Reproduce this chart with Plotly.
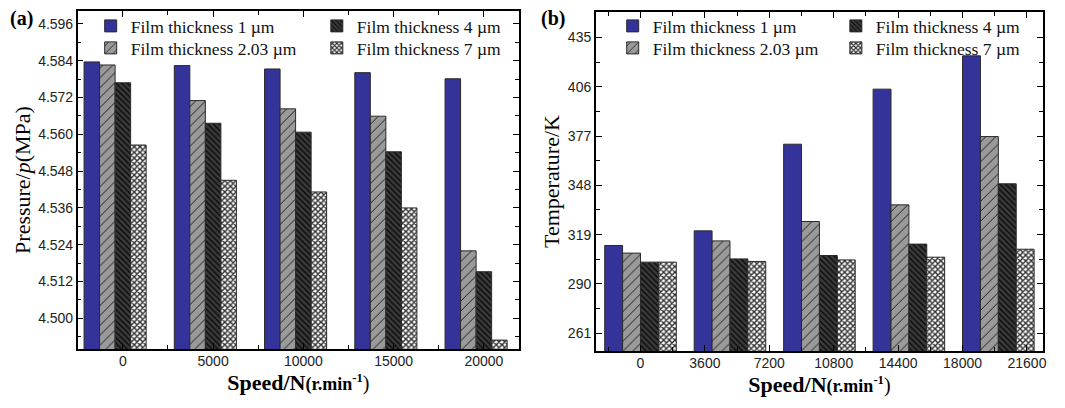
import plotly.graph_objects as go

# ---------------- data ----------------
speeds = [0, 5000, 10000, 15000, 20000]
series_names = ["Film thickness 1 µm", "Film thickness 2.03 µm",
                "Film thickness 4 µm", "Film thickness 7 µm"]

pressure_1um = [4.5836, 4.5824, 4.5813, 4.5801, 4.5781]
pressure_203um = [4.5826, 4.5710, 4.5683, 4.5659, 4.5220]
pressure_4um = [4.5768, 4.5636, 4.5607, 4.5543, 4.5152]
pressure_7um = [4.5565, 4.5450, 4.5412, 4.5360, 4.4929]

temp_1um = [312.6, 321.2, 372.2, 404.6, 424.2]
temp_203um = [308.1, 315.3, 326.7, 336.5, 376.7]
temp_4um = [302.8, 304.7, 306.7, 313.4, 348.9]
temp_7um = [302.8, 303.2, 304.1, 305.7, 310.4]

p_ticks = [4.500, 4.512, 4.524, 4.536, 4.548, 4.560, 4.572, 4.584, 4.596]
t_ticks = [261, 290, 319, 348, 377, 406, 435]
a_xticks = [0, 5000, 10000, 15000, 20000]
b_xticks = [0, 3600, 7200, 10800, 14400, 18000, 21600]

# ---------------- geometry ----------------
# The page body has an 8 px margin, so the figure is 8 px smaller and
# reference pixel positions are shifted by 8 px.
OFF = 8
W, H = 1065 - OFF, 408 - OFF


def px(x):
    return (x - OFF) / W


def py(y):
    return 1 - (y - OFF) / H


SERIF = "Liberation Serif"
SANS = "Liberation Sans"

styles = [
    dict(color="#333399", pattern=dict(shape="")),
    dict(color="#9a9a9a", pattern=dict(shape="/", bgcolor="#9a9a9a", fgcolor="#1a1a1a",
                                       size=7, solidity=0.14, fillmode="replace")),
    dict(color="#383838", pattern=dict(shape="\\", bgcolor="#3a3a3a", fgcolor="#0a0a0a",
                                       size=4, solidity=0.35, fillmode="replace")),
    dict(color="#ffffff", pattern=dict(shape="x", bgcolor="#ffffff", fgcolor="#333333",
                                       size=4, solidity=0.6, fillmode="replace")),
]

# legend slot (text-left minus 40, row top) per series, per panel
legend_pos_a = [(91, 8), (91, 30), (318, 8), (318, 30)]
legend_pos_b = [(615, 8), (615, 30), (839, 8), (839, 30)]

fig = go.Figure()
leg_layout = {}


def add_panel(values, xa, ya, width, shift, first_leg, positions):
    for i, (name, vals) in enumerate(zip(series_names, values)):
        st = styles[i]
        k = first_leg + i
        lname = "legend" if k == 1 else "legend%d" % k
        fig.add_trace(go.Bar(
            x=speeds, y=vals, name=name,
            width=width, offset=(i - shift) * width,
            xaxis=xa, yaxis=ya,
            marker=dict(color=st["color"], pattern=st["pattern"],
                        line=dict(color="#2a2a2a", width=1)),
            legend=lname, showlegend=True,
        ))
        lx, ly = positions[i]
        leg_layout[lname] = dict(
            orientation="v", bgcolor="rgba(0,0,0,0)", borderwidth=0,
            font=dict(family=SERIF, size=17.5, color="#111"),
            xanchor="left", yanchor="top", x=px(lx), y=py(ly), itemwidth=30,
        )


add_panel([pressure_1um, pressure_203um, pressure_4um, pressure_7um], "x", "y", 860, 2.5,
          1, legend_pos_a)
add_panel([temp_1um, temp_203um, temp_4um, temp_7um], "x2", "y2", 1000, 2.0,
          5, legend_pos_b)

axis_common = dict(
    showline=True, linecolor="#000", linewidth=1.5, mirror="ticks",
    ticks="inside", ticklen=6, tickwidth=1, tickcolor="#000",
    showgrid=False, zeroline=False,
    tickfont=dict(family=SANS, size=14, color="#222"),
)

title_x = ("<b>Speed/N</b><b><span style='font-size:18px'>(r.min<sup>-1</sup></span></b>"
           "<span style='font-size:20px'>)</span>")

fig.update_layout(
    width=W, height=H,
    margin=dict(l=0, r=0, t=0, b=0),
    paper_bgcolor="white", plot_bgcolor="white",
    barmode="overlay",
    showlegend=True,
    xaxis=dict(domain=[px(78), px(521)], anchor="y", range=[-2500, 21950],
               tickvals=a_xticks, ticktext=[str(v) for v in a_xticks],
               minor=dict(tickvals=[-2500 + 5000 * k for k in range(6)], ticks="inside",
                          ticklen=4, tickcolor="#000"),
               title=dict(text=title_x, font=dict(family=SERIF, size=22, color="#000"),
                          standoff=7),
               ticklabelstandoff=-2,
               **axis_common),
    yaxis=dict(domain=[py(349), py(11)], anchor="x", range=[4.490, 4.6002],
               tickvals=p_ticks, ticktext=["%.3f" % v for v in p_ticks],
               minor=dict(tickvals=[v + 0.006 for v in p_ticks] + [4.494], ticks="inside",
                          ticklen=4, tickcolor="#000"),
               title=dict(text="Pressure/<i>p</i>(MPa)", font=dict(family=SERIF, size=22, color="#000"),
                          standoff=1),
               **axis_common),
    xaxis2=dict(domain=[px(598), px(1047)], anchor="y2", range=[-2500, 22500],
                tickvals=b_xticks, ticktext=[str(v) for v in b_xticks],
                minor=dict(tickvals=[-1800 + 3600 * k for k in range(8)], ticks="inside",
                           ticklen=4, tickcolor="#000"),
                title=dict(text=title_x, font=dict(family=SERIF, size=22, color="#000"),
                           standoff=7),
                ticklabelstandoff=-2,
                **axis_common),
    yaxis2=dict(domain=[py(351), py(12)], anchor="x2", range=[250.5, 450],
                tickvals=t_ticks, ticktext=[str(v) for v in t_ticks],
                minor=dict(tickvals=[v + 14.5 for v in t_ticks], ticks="inside",
                           ticklen=4, tickcolor="#000"),
                title=dict(text="Temperature/K", font=dict(family=SERIF, size=22, color="#000"),
                           standoff=2),
                **axis_common),
    **leg_layout,
)

fig.add_annotation(text="<b>(a)</b>", x=0, y=py(18), xref="paper", yref="paper",
                   xanchor="left", yanchor="middle", showarrow=False,
                   font=dict(family=SERIF, size=20, color="#000"))
fig.add_annotation(text="<b>(b)</b>", x=px(541), y=py(18), xref="paper", yref="paper",
                   xanchor="left", yanchor="middle", showarrow=False,
                   font=dict(family=SERIF, size=20, color="#000"))

fig.write_html("out.html")
